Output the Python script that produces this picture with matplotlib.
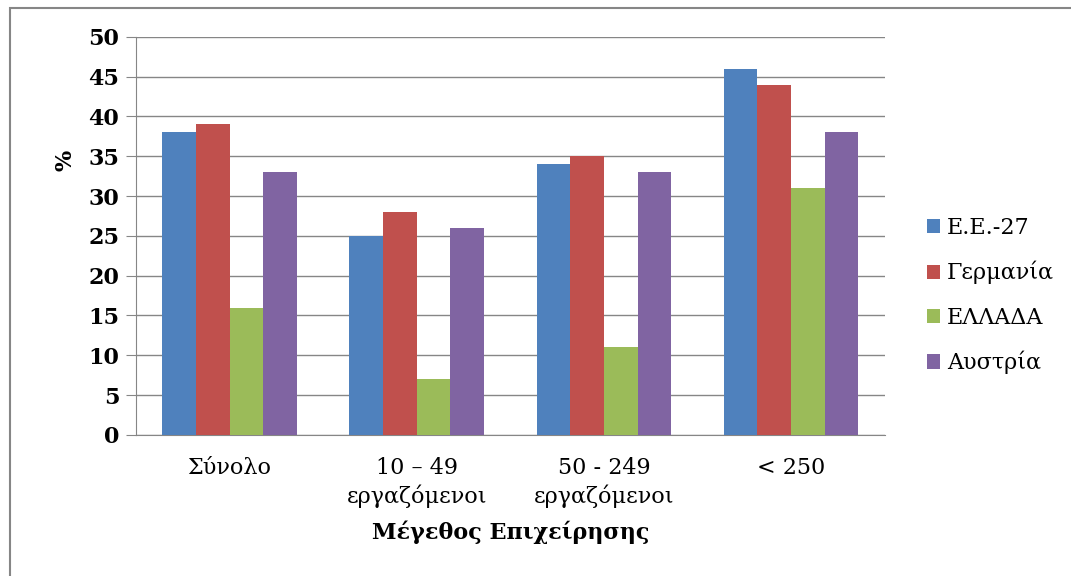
import numpy as np
import matplotlib.pyplot as plt
from matplotlib.patches import Rectangle

# data
categories = ['Σύνολο', '10 – 49\nεργαζόμενοι', '50 - 249\nεργαζόμενοι', '< 250']
series_names = ['Ε.Ε.-27', 'Γερμανία', 'ΕΛΛΑΔΑ', 'Αυστρία']
eu27 = [38, 25, 34, 46]
germany = [39, 28, 35, 44]
greece = [16, 7, 11, 31]
austria = [33, 26, 33, 38]
colors = ['#4F81BD', '#C0504D', '#9BBB59', '#8064A2']

plt.rcParams['font.family'] = ['DejaVu Serif']

fig = plt.figure(figsize=(10.71, 5.76), dpi=100)
ax = fig.add_axes([0.127, 0.245, 0.699, 0.691])

# outer chart border
fig.patches.append(Rectangle((0.009, -0.01), 1.1, 0.996, transform=fig.transFigure,
                             fill=False, edgecolor='#868686', linewidth=1.5))

x = np.arange(len(categories))
width = 0.18
all_series = [eu27, germany, greece, austria]
for i, (vals, name) in enumerate(zip(all_series, series_names)):
    ax.bar(x + (i - 1.5) * width, vals, width, color=colors[i], label=name, zorder=3)

ax.set_xlim(-0.5, 3.5)
ax.set_ylim(0, 50)
ax.set_yticks(range(0, 51, 5))
ax.yaxis.grid(True, color='#868686', linewidth=1)
ax.set_axisbelow(True)
for side in ['top', 'right']:
    ax.spines[side].set_visible(False)
ax.spines['left'].set_color('#868686')
ax.spines['bottom'].set_color('#868686')
ax.tick_params(axis='y', length=7, color='#868686', labelsize=16, pad=5)
for lbl in ax.get_yticklabels():
    lbl.set_fontweight('bold')
ax.set_xticks(x)
ax.set_xticklabels(categories, fontsize=16, linespacing=1.3)
ax.tick_params(axis='x', length=0, pad=16)

# the "%" label sits higher than centre in the original
ax.set_ylabel('%', fontsize=16, fontweight='bold')
ax.yaxis.set_label_coords(-0.08, 0.69)
ax.set_xlabel('Μέγεθος Επιχείρησης', fontsize=16, fontweight='bold', labelpad=9)

ax.legend(loc='center left', bbox_to_anchor=(1.03, 0.35), frameon=False,
          fontsize=16, handlelength=0.6, handleheight=0.6, handletextpad=0.3,
          labelspacing=1.0)

fig.savefig('out.png', dpi=100)
